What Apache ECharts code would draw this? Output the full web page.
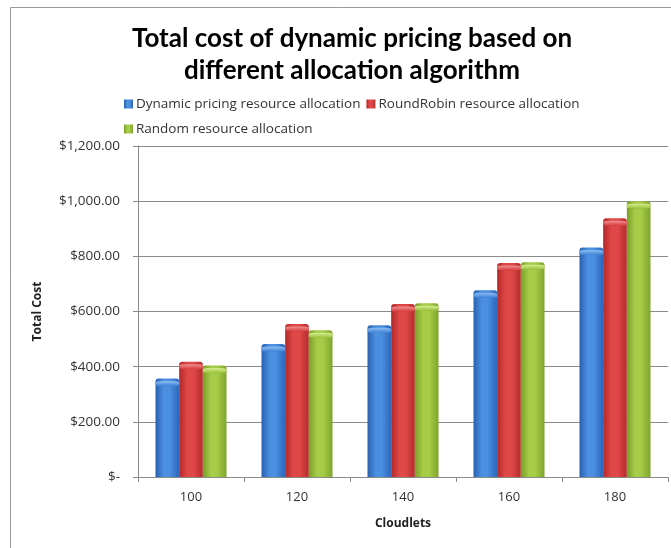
<!DOCTYPE html>
<html>
<head>
<meta charset="utf-8">
<script src="https://cdn.jsdelivr.net/npm/echarts@6/dist/echarts.min.js"></script>
<style>
html,body{margin:0;padding:0;background:#fff;overflow:hidden;}
#chart{width:671px;height:548px;}
</style>
</head>
<body>
<div id="chart"></div>
<script>
const categories = ['100', '120', '140', '160', '180'];
const seriesNames = ['Dynamic pricing resource allocation', 'RoundRobin resource allocation', 'Random resource allocation'];
const dynamicPricing = [357, 482, 550, 677, 832];
const roundRobin = [418, 555, 627, 776, 938];
const randomAlloc = [404, 532, 630, 779, 1000];
const yTicks = [0, 200, 400, 600, 800, 1000, 1200];

function grad(edge, mid, edge2) {
  return new echarts.graphic.LinearGradient(0, 0, 1, 0, [
    {offset: 0, color: edge},
    {offset: 0.35, color: mid},
    {offset: 0.6, color: mid},
    {offset: 1, color: edge2}
  ]);
}
function capGrad(light, base) {
  return new echarts.graphic.LinearGradient(0, 0, 0, 1, [
    {offset: 0, color: light},
    {offset: 1, color: base}
  ]);
}

const font = '"Open Sans", Lato, sans-serif';
const titleFont = 'Lato, "Open Sans", sans-serif';
const fills = [
  grad('#2a60b0', '#4a8fe0', '#2c66bb'),
  grad('#b02828', '#e04848', '#b52b2b'),
  grad('#7a9e28', '#a6cc48', '#7fa42b')
];
const caps = [
  capGrad('#8cbcf2', '#3f82d6'),
  capGrad('#f29090', '#d43c3c'),
  capGrad('#d6ee8e', '#98c03c')
];
const values = [dynamicPricing, roundRobin, randomAlloc];

const series = [];
values.forEach(function (vals, i) {
  series.push({name: seriesNames[i], type: 'bar', data: vals, barGap: '0%', barCategoryGap: '33%',
    itemStyle: {color: fills[i], borderRadius: [3, 3, 0, 0]}});
});
values.forEach(function (vals, i) {
  series.push({name: seriesNames[i], type: 'pictorialBar', data: vals, barGap: '0%', barCategoryGap: '33%',
    symbol: 'roundRect', symbolSize: ['100%', 5], symbolPosition: 'end', symbolOffset: [0, '50%'],
    z: 3, silent: true, itemStyle: {color: caps[i]}});
});

const chart = echarts.init(document.getElementById('chart'), null, {renderer: 'canvas'});
const option = {
  backgroundColor: '#fff',
  animation: false,
  color: ['#3b7dd8', '#d43a3a', '#93bd3a'],
  textStyle: {fontFamily: font},
  graphic: [{
    type: 'polyline', z: -1, silent: true,
    shape: {points: [[10.5, 548], [10.5, 7.5], [671, 7.5]]},
    style: {fill: null, stroke: '#9a9a9a', lineWidth: 1}
  }],
  title: {
    text: 'Total cost of dynamic pricing based on\ndifferent allocation algorithm',
    left: 347, top: 18, textAlign: 'center',
    textStyle: {fontFamily: titleFont, fontSize: 26, fontWeight: 'bold', color: '#000', lineHeight: 32}
  },
  legend: [
    {data: [seriesNames[0], seriesNames[1]], left: 119, top: 92, icon: 'rect', itemWidth: 9, itemHeight: 9, itemGap: 6,
     textStyle: {fontFamily: font, fontSize: 13.5, color: '#333', padding: [0, 0, 0, -2]}},
    {data: [seriesNames[2]], left: 119, top: 117, icon: 'rect', itemWidth: 9, itemHeight: 9, itemGap: 6,
     textStyle: {fontFamily: font, fontSize: 13.5, color: '#333', padding: [0, 0, 0, -2]}}
  ],
  grid: {left: 138, right: 3, top: 146, bottom: 71, containLabel: false},
  xAxis: {
    type: 'category', data: categories,
    name: 'Cloudlets', nameLocation: 'middle', nameGap: 41,
    nameTextStyle: {fontFamily: font, fontSize: 12, fontWeight: 'bold', color: '#222'},
    axisLine: {lineStyle: {color: '#8a8a8a'}},
    axisTick: {show: true, length: 5, lineStyle: {color: '#8a8a8a'}},
    splitLine: {show: false},
    axisLabel: {fontFamily: font, fontSize: 13, color: '#333', margin: 14}
  },
  yAxis: {
    type: 'value', min: 0, max: 1200, interval: 200,
    name: 'Total Cost', nameLocation: 'middle', nameGap: 94, nameRotate: 90,
    nameTextStyle: {fontFamily: font, fontSize: 12, fontWeight: 'bold', color: '#222'},
    axisLine: {show: true, lineStyle: {color: '#8a8a8a'}},
    axisTick: {show: true, length: 5, lineStyle: {color: '#8a8a8a'}},
    splitLine: {lineStyle: {color: '#8a8a8a'}},
    axisLabel: {
      fontFamily: font, fontSize: 13.5, color: '#333', margin: 18,
      customValues: yTicks,
      formatter: function (v) {
        if (v === 0) return '$-';
        return '$' + v.toLocaleString('en-US', {minimumFractionDigits: 2, maximumFractionDigits: 2});
      }
    }
  },
  series: series
};
chart.setOption(option);
</script>
</body>
</html>
